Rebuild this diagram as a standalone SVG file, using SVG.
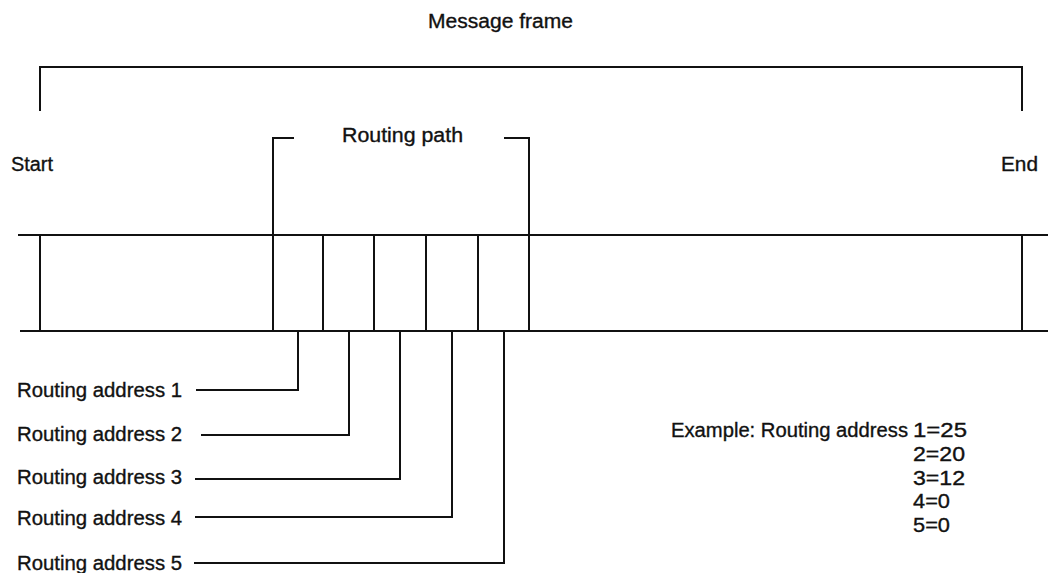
<svg xmlns="http://www.w3.org/2000/svg" width="1053" height="573" viewBox="0 0 1053 573">
<style>
  text { font-family: "Liberation Sans", Arial, sans-serif; font-size: 20px; fill: #111; stroke: #111; stroke-width: 0.35; }
  .ln { stroke: #111; stroke-width: 2; fill: none; stroke-linecap: square; }
</style>
<rect width="1053" height="573" fill="#fff"/>
<g id="message-frame">
  <path class="ln" d="M40,110 V67 H1022 V110"/>
  <text x="428" y="28" textLength="145" lengthAdjust="spacingAndGlyphs">Message frame</text>
</g>
<g id="start"><text x="11" y="171" textLength="42" lengthAdjust="spacingAndGlyphs">Start</text></g>
<g id="end"><text x="1001" y="171" textLength="37" lengthAdjust="spacingAndGlyphs">End</text></g>
<g id="routing-path">
  <path class="ln" d="M293,138 H273 V331"/>
  <path class="ln" d="M505,138 H529 V331"/>
  <text x="342" y="142" textLength="121" lengthAdjust="spacingAndGlyphs">Routing path</text>
</g>
<g id="frame-band">
  <line class="ln" x1="19" y1="235" x2="1047" y2="235"/>
  <line class="ln" x1="21" y1="331" x2="1047" y2="331"/>
  <line class="ln" x1="40" y1="235" x2="40" y2="331"/>
  <line class="ln" x1="1022" y1="235" x2="1022" y2="331"/>
  <line class="ln" x1="323" y1="235" x2="323" y2="331"/>
  <line class="ln" x1="374" y1="235" x2="374" y2="331"/>
  <line class="ln" x1="426" y1="235" x2="426" y2="331"/>
  <line class="ln" x1="478" y1="235" x2="478" y2="331"/>
</g>
<g id="connectors">
  <path class="ln" d="M298,331 V390 H197"/>
  <path class="ln" d="M349,331 V435 H202"/>
  <path class="ln" d="M400,331 V479 H196"/>
  <path class="ln" d="M452,331 V517 H196"/>
  <path class="ln" d="M504,331 V563 H195"/>
</g>
<g id="routing-address-1"><text x="17" y="397" textLength="165" lengthAdjust="spacingAndGlyphs">Routing address 1</text></g>
<g id="routing-address-2"><text x="17" y="441" textLength="165" lengthAdjust="spacingAndGlyphs">Routing address 2</text></g>
<g id="routing-address-3"><text x="17" y="484" textLength="165" lengthAdjust="spacingAndGlyphs">Routing address 3</text></g>
<g id="routing-address-4"><text x="17" y="525" textLength="165" lengthAdjust="spacingAndGlyphs">Routing address 4</text></g>
<g id="routing-address-5"><text x="17" y="570" textLength="165" lengthAdjust="spacingAndGlyphs">Routing address 5</text></g>
<g id="example">
  <text x="671" y="437" textLength="237" lengthAdjust="spacingAndGlyphs">Example: Routing address</text>
  <text x="913" y="437" textLength="54" lengthAdjust="spacingAndGlyphs">1=25</text>
  <text x="913" y="461" textLength="52" lengthAdjust="spacingAndGlyphs">2=20</text>
  <text x="913" y="485" textLength="52" lengthAdjust="spacingAndGlyphs">3=12</text>
  <text x="913" y="508" textLength="37" lengthAdjust="spacingAndGlyphs">4=0</text>
  <text x="913" y="532" textLength="37" lengthAdjust="spacingAndGlyphs">5=0</text>
</g>
</svg>
